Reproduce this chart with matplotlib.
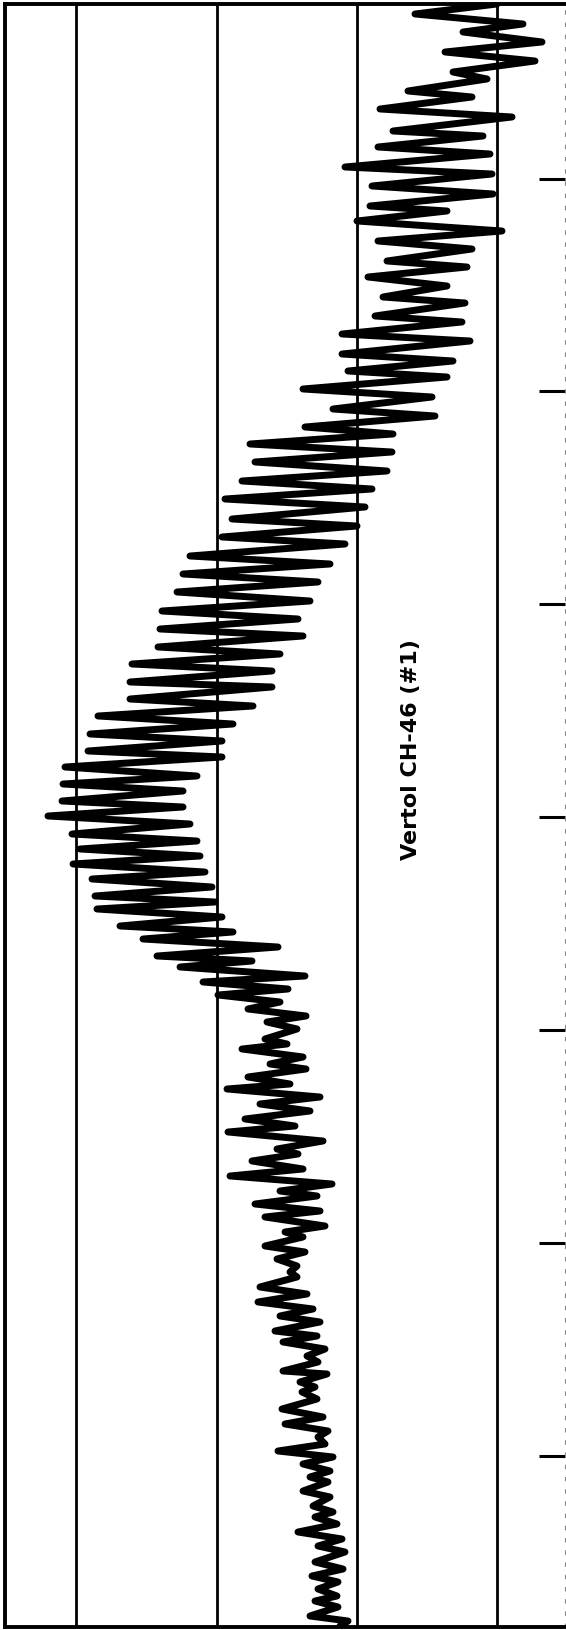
import matplotlib
matplotlib.use('Agg')
import numpy as np
import matplotlib.pyplot as plt

# digitised trace (turning points, top to bottom)
# read_y: vertical reading, read_x: horizontal reading (scan pixels)
read_y = [5, 15, 25, 33, 43, 53, 62, 73, 80, 92, 98, 110, 118, 132, 137, 148, 155, 168, 175, 187,
          195, 207, 212, 222, 232, 242, 250, 262, 268, 278,
          287, 298, 304, 317, 323, 335, 342, 355, 362, 372, 378, 390, 398, 410, 417, 428, 435, 445,
          453, 463, 472, 482, 490, 500, 508, 520, 527, 538, 545,
          557, 565, 575, 583, 593, 602, 612, 620, 630, 637, 648, 655, 665, 672, 683, 688, 700, 707,
          717, 725, 735, 742, 752, 758, 768, 777, 785, 792, 802, 808, 817,
          825, 835, 842, 850, 857, 865, 873, 880, 888, 897, 903, 910, 918, 927, 933, 940, 948, 957,
          962, 968, 977, 983, 990, 996, 1003, 1010, 1017, 1023, 1030, 1040, 1045, 1050, 1058, 1065,
          1070, 1078, 1085, 1090,
          1098, 1105, 1112, 1120, 1127, 1133, 1142, 1150, 1155, 1162, 1170, 1177, 1185, 1192, 1197,
          1205, 1212, 1218, 1227, 1233, 1238, 1247, 1253, 1260, 1267, 1273, 1278, 1288, 1295, 1303,
          1310, 1317, 1323, 1332, 1337, 1343, 1350, 1357,
          1363, 1372, 1375, 1383, 1388, 1393, 1400, 1410, 1418, 1425, 1432, 1438, 1445, 1452, 1458,
          1465, 1472, 1478, 1483, 1492, 1498, 1507, 1513, 1518, 1525, 1533, 1540, 1547, 1553, 1563,
          1570, 1577, 1583, 1590, 1597, 1602, 1608, 1617, 1622, 1627]
read_x = [497, 415, 523, 463, 542, 445, 535, 453, 487, 408, 472, 380, 512, 393, 483, 378, 490, 345, 492, 372,
          493, 370, 447, 357, 502, 378, 472, 387, 467, 368,
          447, 383, 465, 375, 462, 342, 470, 342, 453, 348, 447, 303, 432, 333, 435, 305, 393, 250,
          392, 255, 387, 242, 372, 225, 365, 232, 357, 222, 345,
          190, 330, 183, 318, 177, 310, 162, 298, 160, 303, 158, 280, 132, 272, 130, 272, 130, 253,
          98, 233, 90, 222, 88, 222, 65, 197, 63, 183, 62, 183, 48,
          190, 72, 197, 80, 200, 73, 205, 92, 212, 95, 215, 97, 222, 120, 233, 143, 278, 157,
          252, 180, 305, 203, 288, 218, 280, 248, 306, 267, 297, 265, 287, 242, 303, 270,
          306, 248, 290, 227,
          320, 260, 310, 245, 295, 228, 323, 277, 298, 252, 303, 230, 332, 280, 317,
          255, 320, 265, 325, 285, 303, 265, 305, 277, 297, 290, 297, 260, 307, 258,
          313, 280, 320, 275, 317, 283, 325, 307,
          318, 283, 327, 300, 315, 302, 317, 282, 323, 285, 328, 318, 325, 278, 333,
          303, 330, 310, 328, 303, 330, 313, 333, 315, 337, 298, 342, 318, 345, 315,
          343, 312, 338, 318, 337, 315, 338, 310, 348, 340]

# calibration of the scan: grid line 0 and one division, time mark 1 and one mark spacing
x_zero, x_div = 216.5, 140.3
y_mark1, y_div = 1456.5, 212.8

amplitude = (np.array(read_x) - x_zero) / x_div
time_marks = 1 + (y_mark1 - np.array(read_y)) / y_div

grid_divs = [-1, 0, 1, 2]
marks = [1, 2, 3, 4, 5, 6, 7]
label = 'Vertol CH-46 (#1)'

W, H = 566, 1631
fig = plt.figure(figsize=(W / 100, H / 100), dpi=100)
ax = fig.add_axes([5 / W, 3 / H, 560 / W, 1623 / H])

ax.plot(amplitude, time_marks, color='black', lw=5.0,
        solid_joinstyle='round', solid_capstyle='round', zorder=3)

ax.set_xlim((5 - x_zero) / x_div, (565 - x_zero) / x_div)
ax.set_ylim(1 + (y_mark1 - 1628) / y_div, 1 + (y_mark1 - 5) / y_div)

for g in grid_divs:
    ax.axvline(g, color='black', lw=2.0, zorder=2)

ax.set_xticks([])
ax.set_yticks(marks)
ax.tick_params(axis='y', direction='in', length=19, width=2.2, color='black',
               left=False, right=True, labelleft=False, labelright=False)

for side in ['left', 'top', 'bottom']:
    ax.spines[side].set_linewidth(2.8)
ax.spines['right'].set_linewidth(0.8)
ax.spines['right'].set_linestyle((0, (3, 8)))
ax.spines['right'].set_color('#888888')

ax.text(0.725, 0.541, label, transform=ax.transAxes, rotation=90,
        ha='center', va='center', fontsize=16, fontweight='bold', color='black')

fig.savefig('out.png', dpi=100)
